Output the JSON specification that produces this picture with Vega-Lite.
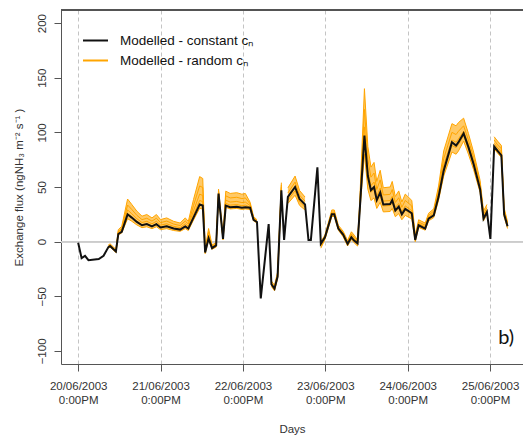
{
  "$schema": "https://vega.github.io/schema/vega-lite/v6.json",
  "width": 462,
  "height": 354,
  "autosize": {"type": "none"},
  "padding": {"left": 61, "top": 10, "right": 0, "bottom": 73},
  "background": "white",
  "config": {"view": {"stroke": null}, "font": "Liberation Sans"},
  "data": {"values": [
    {"t": 0, "k": -1},
    {"t": 1, "k": -15},
    {"t": 2, "k": -13},
    {"t": 3, "k": -17},
    {"t": 6, "k": -16},
    {"t": 7.4, "k": -13},
    {"t": 8.8, "k": -5, "lo": -6, "a": -5, "b": -4.5, "c": -4, "hi": -3},
    {"t": 9.3, "k": -4, "lo": -5, "a": -4, "b": -3.5, "c": -3, "hi": -2},
    {"t": 10.3, "k": -7, "lo": -8, "a": -7, "b": -6.5, "c": -6, "hi": -5},
    {"t": 11, "k": -9, "lo": -10, "a": -9, "b": -8.5, "c": -8, "hi": -7},
    {"t": 11.7, "k": 7, "lo": 6, "a": 7.5, "b": 8.5, "c": 9.5, "hi": 11},
    {"t": 12.7, "k": 9, "lo": 8, "a": 10, "b": 11, "c": 12, "hi": 14},
    {"t": 14.4, "k": 25, "lo": 21, "a": 25.6, "b": 29, "c": 33.5, "hi": 39},
    {"t": 15.6, "k": 22, "lo": 18.7, "a": 22.6, "b": 25.6, "c": 29.5, "hi": 34.1},
    {"t": 17.1, "k": 18, "lo": 15.3, "a": 18.5, "b": 21, "c": 24.1, "hi": 27.9},
    {"t": 18.6, "k": 15, "lo": 12.8, "a": 15.4, "b": 17.5, "c": 20.1, "hi": 23.3},
    {"t": 20, "k": 16, "lo": 13.6, "a": 16.4, "b": 18.6, "c": 21.4, "hi": 24.8},
    {"t": 21.5, "k": 14, "lo": 11.9, "a": 14.4, "b": 16.3, "c": 18.8, "hi": 21.7},
    {"t": 22.8, "k": 16, "lo": 13.6, "a": 16.4, "b": 18.6, "c": 21.4, "hi": 24.8},
    {"t": 24, "k": 13, "lo": 11, "a": 13.3, "b": 15.1, "c": 17.4, "hi": 20.2},
    {"t": 25.8, "k": 14, "lo": 11.9, "a": 14.4, "b": 16.3, "c": 18.8, "hi": 21.7},
    {"t": 27.8, "k": 12, "lo": 10.2, "a": 12.3, "b": 14, "c": 16.1, "hi": 18.6},
    {"t": 29.7, "k": 11, "lo": 9.4, "a": 11.3, "b": 12.8, "c": 14.7, "hi": 17},
    {"t": 31.2, "k": 14, "lo": 11.9, "a": 14.4, "b": 16.3, "c": 18.8, "hi": 21.7},
    {"t": 32.1, "k": 12, "lo": 10.2, "a": 12.3, "b": 14, "c": 16.1, "hi": 18.6},
    {"t": 33.6, "k": 22, "lo": 19.8, "a": 24.4, "b": 28.2, "c": 33, "hi": 38.5},
    {"t": 35.4, "k": 34, "lo": 30.6, "a": 37.7, "b": 43.5, "c": 51, "hi": 59.5},
    {"t": 36.3, "k": 33, "lo": 29.7, "a": 36.6, "b": 42.2, "c": 49.5, "hi": 57.8},
    {"t": 37, "k": -10, "lo": -11, "a": -10, "b": -9.5, "c": -9, "hi": -7},
    {"t": 38, "k": 3, "lo": 2, "a": 4, "b": 6, "c": 9, "hi": 12},
    {"t": 39, "k": -6, "lo": -7, "a": -6, "b": -5, "c": -4.5, "hi": -3},
    {"t": 40.2, "k": -3.5, "lo": -5, "a": -3.5, "b": -2.5, "c": -2, "hi": -1},
    {"t": 40.9, "k": 44, "lo": 42, "a": 44, "b": 45, "c": 46, "hi": 48},
    {"t": 42.2, "k": 2.5, "lo": 1.5, "a": 2.5, "b": 3, "c": 4, "hi": 5},
    {"t": 43, "k": 33, "lo": 31.4, "a": 35, "b": 38, "c": 41.9, "hi": 46.2},
    {"t": 44.3, "k": 31.5, "lo": 29.9, "a": 33.4, "b": 36.2, "c": 40, "hi": 44.1},
    {"t": 46.2, "k": 32, "lo": 30.4, "a": 33.9, "b": 36.8, "c": 40.6, "hi": 44.8},
    {"t": 47.7, "k": 31, "lo": 29.5, "a": 32.9, "b": 35.7, "c": 39.4, "hi": 43.4},
    {"t": 48.7, "k": 31.5, "lo": 29.9, "a": 33.4, "b": 36.2, "c": 40, "hi": 44.1},
    {"t": 50.1, "k": 31, "lo": 29.5, "a": 31.5, "b": 33, "c": 34.5, "hi": 36},
    {"t": 51.1, "k": 20, "lo": 19, "a": 20, "b": 21, "c": 22, "hi": 23},
    {"t": 52.1, "k": 18, "lo": 17, "a": 18, "b": 18.5, "c": 19, "hi": 20},
    {"t": 53.2, "k": -52},
    {"t": 55.5, "k": 16},
    {"t": 56.3, "k": -39, "lo": -41, "a": -40, "b": -39, "c": -38, "hi": -36},
    {"t": 57.2, "k": -43, "lo": -45, "a": -44, "b": -43, "c": -42, "hi": -40},
    {"t": 58.1, "k": -32, "lo": -34, "a": -33, "b": -32, "c": -30, "hi": -28},
    {"t": 59.2, "k": 47, "lo": 45, "a": 48, "b": 50, "c": 52, "hi": 54},
    {"t": 60, "k": 1.5},
    {"t": 61.1, "k": 41, "lo": 34.9, "a": 38, "b": 41, "c": 44.5, "hi": 49.2},
    {"t": 63.2, "k": 50, "lo": 42.5, "a": 46.5, "b": 50, "c": 54.5, "hi": 60},
    {"t": 64.5, "k": 39, "lo": 33.2, "a": 36.3, "b": 39, "c": 42.5, "hi": 46.8},
    {"t": 66.1, "k": 34, "lo": 28.9, "a": 31.6, "b": 34, "c": 37, "hi": 40.8},
    {"t": 67.1, "k": 1.5},
    {"t": 67.8, "k": 1.5},
    {"t": 69.7, "k": 68},
    {"t": 70.7, "k": -2, "lo": -6, "a": -4, "b": -2, "c": -1, "hi": 0},
    {"t": 71.9, "k": 4, "lo": 2, "a": 3, "b": 4, "c": 5, "hi": 6},
    {"t": 73.9, "k": 25, "lo": 23, "a": 24.5, "b": 25.5, "c": 27, "hi": 29},
    {"t": 74.6, "k": 25, "lo": 23, "a": 24.5, "b": 25.5, "c": 27, "hi": 29},
    {"t": 75.8, "k": 12, "lo": 10.5, "a": 11.5, "b": 12.5, "c": 13.5, "hi": 15},
    {"t": 77.2, "k": 6.4, "lo": 4.5, "a": 6, "b": 7, "c": 8, "hi": 9.5},
    {"t": 78.5, "k": -2, "lo": -4, "a": -2.5, "b": -1.5, "c": -0.5, "hi": 1},
    {"t": 79.6, "k": 4, "lo": 2, "a": 4, "b": 5.5, "c": 7, "hi": 9},
    {"t": 80.4, "k": 1, "lo": -1, "a": 1, "b": 2.5, "c": 4, "hi": 6},
    {"t": 81.4, "k": -1.5, "lo": -4, "a": -2, "b": -1, "c": 0, "hi": 1.5},
    {"t": 82, "k": 27, "lo": 25, "a": 27, "b": 29, "c": 31, "hi": 34},
    {"t": 83.4, "k": 97, "lo": 80, "a": 93, "b": 105, "c": 121, "hi": 140},
    {"t": 84.4, "k": 60, "lo": 48, "a": 57.6, "b": 65.4, "c": 75.3, "hi": 87},
    {"t": 85.3, "k": 47, "lo": 37.6, "a": 45.1, "b": 51.2, "c": 59, "hi": 68.2},
    {"t": 86.2, "k": 50, "lo": 40, "a": 48, "b": 54.5, "c": 62.8, "hi": 72.5},
    {"t": 87, "k": 38, "lo": 30.4, "a": 36.5, "b": 41.4, "c": 47.7, "hi": 55.1},
    {"t": 88, "k": 45, "lo": 36, "a": 43.2, "b": 49, "c": 56.5, "hi": 65.3},
    {"t": 88.9, "k": 34, "lo": 27.2, "a": 32.6, "b": 37.1, "c": 42.7, "hi": 49.3},
    {"t": 90.9, "k": 34.5, "lo": 27.6, "a": 33.1, "b": 37.6, "c": 43.3, "hi": 50},
    {"t": 91.5, "k": 38, "lo": 30.4, "a": 36.5, "b": 41.4, "c": 47.7, "hi": 55.1},
    {"t": 92.4, "k": 28.5, "lo": 22.8, "a": 27.4, "b": 31.1, "c": 35.8, "hi": 41.3},
    {"t": 93.4, "k": 32, "lo": 25.6, "a": 30.7, "b": 34.9, "c": 40.2, "hi": 46.4},
    {"t": 94.3, "k": 25, "lo": 20, "a": 24, "b": 27.3, "c": 31.4, "hi": 36.3},
    {"t": 95.3, "k": 30, "lo": 24, "a": 28.8, "b": 32.7, "c": 37.7, "hi": 43.5},
    {"t": 97.2, "k": 26, "lo": 20.8, "a": 25, "b": 28.3, "c": 32.6, "hi": 37.7},
    {"t": 98.2, "k": 1.5, "lo": 0, "a": 1.5, "b": 3, "c": 4.5, "hi": 6},
    {"t": 99.2, "k": 15, "lo": 13, "a": 15, "b": 16.5, "c": 18, "hi": 20},
    {"t": 101.1, "k": 12, "lo": 10.5, "a": 12, "b": 13.5, "c": 15, "hi": 17},
    {"t": 102.1, "k": 21, "lo": 19, "a": 21, "b": 22.5, "c": 24, "hi": 26},
    {"t": 103.6, "k": 24, "lo": 22, "a": 24, "b": 26, "c": 28, "hi": 30},
    {"t": 105, "k": 41, "lo": 38, "a": 41, "b": 44, "c": 47, "hi": 51},
    {"t": 106.5, "k": 65, "lo": 60, "a": 65, "b": 70, "c": 76, "hi": 83},
    {"t": 108.9, "k": 91, "lo": 82, "a": 88, "b": 93, "c": 100, "hi": 108},
    {"t": 110.1, "k": 88, "lo": 80, "a": 86, "b": 91, "c": 98, "hi": 106},
    {"t": 110.8, "k": 91, "lo": 83, "a": 89, "b": 94, "c": 101, "hi": 109},
    {"t": 112.3, "k": 99, "lo": 92, "a": 97, "b": 101, "c": 106, "hi": 113},
    {"t": 113.7, "k": 86.5, "lo": 80, "a": 85, "b": 89, "c": 93, "hi": 99},
    {"t": 115.2, "k": 71, "lo": 66, "a": 70, "b": 73, "c": 77, "hi": 82},
    {"t": 117.1, "k": 48, "lo": 45, "a": 48, "b": 50, "c": 53, "hi": 56},
    {"t": 118.1, "k": 21, "lo": 19, "a": 21, "b": 23, "c": 25, "hi": 28},
    {"t": 119.1, "k": 27, "lo": 25, "a": 27, "b": 29, "c": 31, "hi": 34},
    {"t": 120.1, "k": 2.5},
    {"t": 121.2, "k": 87, "lo": 85, "a": 88, "b": 90, "c": 93, "hi": 96},
    {"t": 122.2, "k": 83, "lo": 81, "a": 84, "b": 86, "c": 88.5, "hi": 92},
    {"t": 123.3, "k": 79, "lo": 77, "a": 80, "b": 82, "c": 85, "hi": 88},
    {"t": 124.1, "k": 25, "lo": 23, "a": 25, "b": 27, "c": 29, "hi": 31},
    {"t": 125.1, "k": 14, "lo": 12, "a": 14, "b": 15, "c": 16.5, "hi": 18}
  ]},
  "layer": [
    {
      "mark": {"type": "rule", "color": "#cccccc", "strokeWidth": 1},
      "encoding": {
        "y": {
          "datum": 0,
          "type": "quantitative",
          "scale": {"domain": [-112, 212], "nice": false, "zero": false},
          "axis": {
            "values": [-100, -50, 0, 50, 100, 150, 200],
            "title": "Exchange flux (ngNH₃ m⁻² s⁻¹ )",
            "titleFontSize": 11.5,
            "titleFontWeight": "normal",
            "titleColor": "#333333",
            "titlePadding": 12,
            "labelAngle": -90,
            "labelAlign": "center",
            "labelBaseline": "bottom",
            "labelFontSize": 11.5,
            "labelColor": "#333333",
            "labelPadding": 7,
            "tickSize": 7,
            "tickColor": "#555555",
            "domainColor": "#555555",
            "grid": false
          }
        }
      }
    },
    {
      "mark": {"type": "rule", "color": "#555555", "strokeWidth": 1},
      "encoding": {"y": {"datum": 212, "type": "quantitative"}}
    },
    {
      "mark": {"type": "area", "color": "#FFA500", "opacity": 0.6},
      "encoding": {
        "x": {
          "field": "t",
          "type": "quantitative",
          "scale": {"domain": [-5, 129.6], "nice": false, "zero": false},
          "axis": {
            "values": [0, 24, 48, 72, 96, 120],
            "labelExpr": "[['20','21','22','23','24','25'][round(datum.value / 24)] + '/06/2003', '0:00PM']",
            "title": "Days",
            "titleFontSize": 11.5,
            "titleFontWeight": "normal",
            "titleColor": "#333333",
            "titlePadding": 18,
            "labelFontSize": 11.5,
            "labelColor": "#333333",
            "labelLineHeight": 14,
            "labelPadding": 9,
            "labelFlush": false,
            "labelOverlap": false,
            "tickSize": 7,
            "tickColor": "#555555",
            "domainColor": "#555555",
            "grid": true,
            "gridDash": [4, 3],
            "gridColor": "#c4c4c4"
          }
        },
        "y": {"field": "lo", "type": "quantitative"},
        "y2": {"field": "hi"}
      }
    },
    {
      "transform": [{"fold": ["lo", "a", "b", "c", "hi"], "as": ["run", "val"]}],
      "mark": {"type": "line", "strokeWidth": 1},
      "encoding": {
        "x": {"field": "t", "type": "quantitative"},
        "y": {"field": "val", "type": "quantitative"},
        "detail": {"field": "run"},
        "color": {"datum": "Modelled - random cₙ", "type": "nominal"}
      }
    },
    {
      "mark": {"type": "line", "strokeWidth": 2},
      "encoding": {
        "x": {"field": "t", "type": "quantitative"},
        "y": {"field": "k", "type": "quantitative"},
        "color": {
          "datum": "Modelled - constant cₙ",
          "type": "nominal",
          "scale": {
            "domain": ["Modelled - constant cₙ", "Modelled - random cₙ"],
            "range": ["#111111", "#FFA500"]
          },
          "legend": {
            "orient": "none",
            "legendX": 21,
            "legendY": 17,
            "title": null,
            "symbolType": "stroke",
            "symbolSize": 625,
            "symbolStrokeWidth": 2,
            "labelFontSize": 13.5,
            "labelColor": "#111111",
            "labelOffset": 11,
            "rowPadding": -9
          }
        }
      }
    },
    {
      "data": {"values": [{"t": 124.7, "v": -88, "lab": "b)"}]},
      "mark": {"type": "text", "fontSize": 20, "font": "Lato", "color": "#111111"},
      "encoding": {
        "x": {"field": "t", "type": "quantitative"},
        "y": {"field": "v", "type": "quantitative"},
        "text": {"field": "lab"}
      }
    }
  ]
}
